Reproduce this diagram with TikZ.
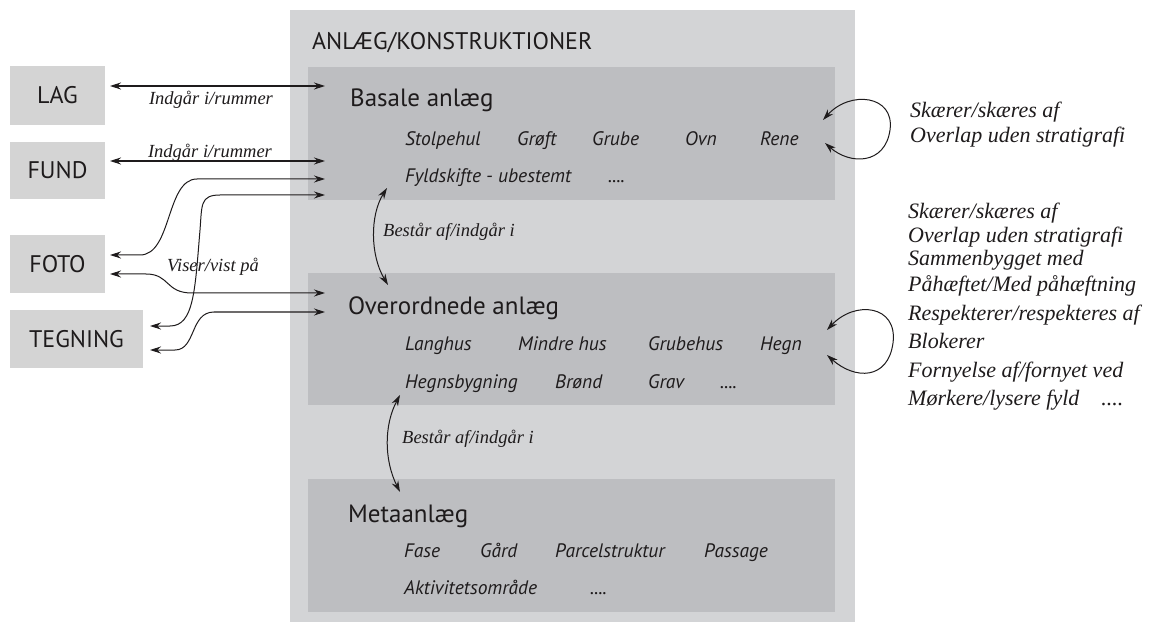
\documentclass[tikz,border=0pt]{standalone}
\usepackage{fontspec}
\newfontfamily\hfont{PT Sans}
\newfontfamily\rfont{Liberation Serif}
\usetikzlibrary{arrows.meta}
\definecolor{outerg}{HTML}{D3D4D6}
\definecolor{innerg}{HTML}{BDBEC1}
\definecolor{leftg}{HTML}{D4D4D4}
\definecolor{ink}{HTML}{1E1B1C}
\begin{document}
\begin{tikzpicture}[x=1pt,y=-1pt,
  box/.style={draw=none,inner sep=0pt,outer sep=0pt,anchor=north west},
  outerbox/.style={box,fill=outerg},
  innerbox/.style={box,fill=innerg},
  leftbox/.style={draw=none,inner sep=0pt,outer sep=0pt,fill=leftg,text=ink,font=\hfont\fontsize{24}{28}\selectfont},
  titletext/.style={anchor=base west,inner sep=0pt,text=ink,font=\hfont\fontsize{24}{28}\selectfont},
  headtext/.style={anchor=base west,inner sep=0pt,text=ink,font=\hfont\fontsize{25}{30}\selectfont},
  itemtext/.style={anchor=base west,inner sep=0pt,text=ink,font=\hfont\itshape\fontsize{19.5}{22}\selectfont},
  reltext/.style={inner sep=0pt,text=ink,font=\rfont\itshape\fontsize{18.5}{21}\selectfont},
  listtext/.style={anchor=base west,inner sep=0pt,text=ink,font=\rfont\itshape\fontsize{22}{26}\selectfont},
  conn/.style={{Stealth[length=11pt,width=7pt]}-{Stealth[length=11pt,width=7pt]},line width=1.2pt,draw=ink},
  thinconn/.style={{Stealth[length=11pt,width=7pt]}-{Stealth[length=11pt,width=7pt]},line width=1pt,draw=ink}
]
\useasboundingbox (0,0) rectangle (1159,628);

% main containers
\node[outerbox,minimum width=565pt,minimum height=612pt] (outer) at (290,10) {};
\node[titletext] (title) at (312,50) {ANLÆG/KONSTRUKTIONER};

\node[innerbox,minimum width=527pt,minimum height=133pt] (basale) at (308,67) {};
\node[innerbox,minimum width=527pt,minimum height=132pt] (overord) at (308,273) {};
\node[innerbox,minimum width=527pt,minimum height=133pt] (meta) at (308,479) {};

% left boxes
\node[leftbox,minimum width=95pt,minimum height=59pt] (lag) at (57.5,95.5) {LAG};
\node[leftbox,minimum width=95pt,minimum height=57pt] (fund) at (57.5,170.5) {FUND};
\node[leftbox,minimum width=95pt,minimum height=58pt] (foto) at (57.5,264) {FOTO};
\node[leftbox,minimum width=133pt,minimum height=58pt] (tegning) at (76.5,339) {TEGNING};

% Basale
\node[headtext] (bhead) at (350,107) {Basale anlæg};
\node[itemtext] (b1) at (405,146) {Stolpehul};
\node[itemtext] (b2) at (517,146) {Grøft};
\node[itemtext] (b3) at (592,146) {Grube};
\node[itemtext] (b4) at (685,146) {Ovn};
\node[itemtext] (b5) at (760,146) {Rene};
\node[itemtext] (b6) at (405,183) {Fyldskifte - ubestemt};
\node[itemtext] (b7) at (608,183) {....};

% Overordnede
\node[headtext] (ohead) at (348,314) {Overordnede anlæg};
\node[itemtext] (o1) at (405,350) {Langhus};
\node[itemtext] (o2) at (518,350) {Mindre hus};
\node[itemtext] (o3) at (648,350) {Grubehus};
\node[itemtext] (o4) at (760,350) {Hegn};
\node[itemtext] (o5) at (405,388) {Hegnsbygning};
\node[itemtext] (o6) at (555,388) {Brønd};
\node[itemtext] (o7) at (648,388) {Grav};
\node[itemtext] (o8) at (720,388) {....};

% Meta
\node[headtext] (mhead) at (348,522) {Metaanlæg};
\node[itemtext] (m1) at (404,557) {Fase};
\node[itemtext] (m2) at (480,557) {Gård};
\node[itemtext] (m3) at (555,557) {Parcelstruktur};
\node[itemtext] (m4) at (704,557) {Passage};
\node[itemtext] (m5) at (404,594) {Aktivitetsområde};
\node[itemtext] (m6) at (590,594) {....};

% connector end points
\coordinate (lagE) at (110,86);
\coordinate (basA) at (325,86);
\coordinate (fundE) at (110,161);
\coordinate (basB) at (325,161);
\coordinate (basC) at (325,179);
\coordinate (basD) at (325,195);
\coordinate (fotoA) at (110,255);
\coordinate (fotoB) at (110,274);
\coordinate (tegA) at (150,326);
\coordinate (tegB) at (150,350);
\coordinate (ovA) at (325,293);
\coordinate (ovB) at (325,312);

% horizontal connectors
\draw[conn] (lagE) -- (basA);
\draw[conn] (fundE) -- (basB);
\node[reltext,anchor=base] (rel1) at (211,105) {Indgår i/rummer};
\node[reltext,anchor=base] (rel2) at (210,158) {Indgår i/rummer};

% curved connectors
\draw[thinconn] (fotoA) -- (140,255) .. controls (172,255) and (166,179) .. (197,179) -- (basC);
\draw[thinconn] (basD) -- (220,195) .. controls (200,195) and (202,205) .. (200,230) .. controls (195,290) and (194,326) .. (170,326) -- (tegA);
\draw[thinconn] (fotoB) -- (146,274) .. controls (170,274) and (165,293) .. (192,293) -- (ovA);
\draw[thinconn] (tegB) -- (175,350) .. controls (196,350) and (190,312) .. (214,312) -- (ovB);
\node[reltext,anchor=base] (rel3) at (213,272) {Viser/vist på};

% vertical connectors
\coordinate (bv1) at (387,188);
\coordinate (ov1) at (388,285);
\coordinate (ov2) at (400,395);
\coordinate (mv2) at (400,492);
\draw[thinconn] (bv1) .. controls (370,215) and (370,255) .. (ov1);
\draw[thinconn] (ov2) .. controls (384,425) and (384,460) .. (mv2);
\node[reltext,anchor=base west] (rel4) at (383,237) {Består af/indgår i};
\node[reltext,anchor=base west] (rel5) at (402,443) {Består af/indgår i};

% self loops
\coordinate (bl1) at (823,120);
\coordinate (bl2) at (825,143);
\draw[thinconn] (bl1) .. controls (850,90) and (895,95) .. (890,130) .. controls (885,165) and (850,165) .. (bl2);
\node[listtext] (bt1) at (910,118) {Skærer/skæres af};
\node[listtext] (bt2) at (910,143) {Overlap uden stratigrafi};

\coordinate (ol1) at (827,330);
\coordinate (ol2) at (827,355);
\draw[thinconn] (ol1) .. controls (855,300) and (898,305) .. (893,343) .. controls (888,380) and (855,380) .. (ol2);
\node[listtext] (l1) at (908,219) {Skærer/skæres af};
\node[listtext] (l2) at (908,243) {Overlap uden stratigrafi};
\node[listtext] (l3) at (908,266) {Sammenbygget med};
\node[listtext] (l4) at (908,292) {Påhæftet/Med påhæftning};
\node[listtext] (l5) at (908,320) {Respekterer/respekteres af};
\node[listtext] (l6) at (908,348) {Blokerer};
\node[listtext] (l7) at (908,377) {Fornyelse af/fornyet ved};
\node[listtext] (l8) at (908,405) {Mørkere/lysere fyld\hspace{22pt}....};
\end{tikzpicture}
\end{document}
